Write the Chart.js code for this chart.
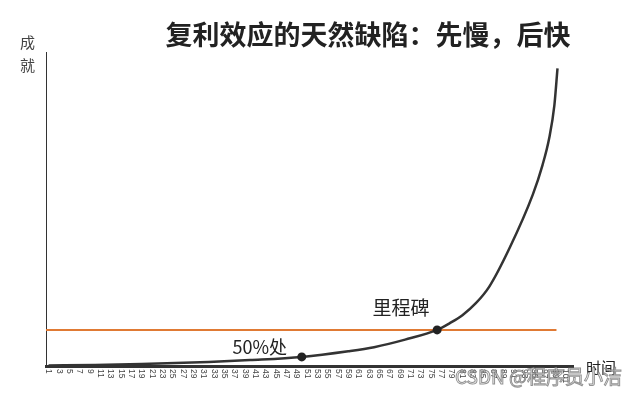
<!DOCTYPE html>
<html>
<head>
<meta charset="utf-8">
<script src="https://cdn.jsdelivr.net/npm/chart.js@4.4.1/dist/chart.umd.min.js"></script>
<style>
  html, body { margin: 0; padding: 0; background: #fff; }
  #wrap { position: relative; width: 643px; height: 398px; }
</style>
</head>
<body>
<div id="wrap"><canvas id="chart" width="643" height="398"></canvas></div>
<script>
// ---- data ----
const xTickLabels = [1, 3, 5, 7, 9, 11, 13, 15, 17, 19, 21, 23, 25, 27, 29, 31, 33, 35, 37, 39, 41, 43, 45, 47, 49,
    51, 53, 55, 57, 59, 61, 63, 65, 67, 69, 71, 73, 75, 77, 79, 81, 83, 85, 87, 89, 91, 93, 95, 97, 99, 101];

// 成就曲线 (y in 0..100 of axis height)
const curveX = [1, 10, 19, 32, 40, 50, 59, 64, 70, 76.2, 78.6, 81.1, 83.7, 86.3, 90.2, 94.7, 96.6, 97.9, 98.9, 99.5];
const curveY = [0.15, 0.35, 0.6, 1.3, 1.9, 2.9, 4.7, 6.0, 8.4, 11.5, 13.6, 16.2, 20.0, 25.3, 37.5, 54.5, 64.0, 72.6, 83.1, 94.8];

// 里程碑 horizontal line
const milestoneX = [0.5, 99.3];
const milestoneY = [11.5, 11.5];

// marked points: 50%处, 里程碑
const markX = [50, 76.2];
const markY = [2.9, 11.5];
const markText = ['50%处', '里程碑'];

const titleText = '复利效应的天然缺陷：先慢，后快';
const yAxisText = ['成', '就'];
const xAxisText = '时间';
const watermark = 'CSDN @程序员小洁';

const CJK = '"Noto Sans CJK SC", "Noto Sans", sans-serif';

const toPoints = (xs, ys) => xs.map((x, i) => ({ x: x, y: ys[i] }));

// texts, tick labels drawn on the canvas
const textPlugin = {
    id: 'texts',
    afterDraw(chart) {
        const ctx = chart.ctx;
        const xs = chart.scales.x, ys = chart.scales.y;
        const area = chart.chartArea;
        ctx.save();

        // title
        ctx.fillStyle = '#222';
        ctx.textAlign = 'center';
        ctx.textBaseline = 'middle';
        ctx.font = 'bold 27px ' + CJK;
        ctx.fillText(titleText, 368, 35);

        // axis names
        ctx.font = '15px ' + CJK;
        ctx.fillStyle = '#444';
        ctx.fillText(yAxisText[0], 27.5, 42);
        ctx.fillText(yAxisText[1], 27.5, 65);
        ctx.fillStyle = '#222';
        ctx.fillText(xAxisText, 601, 367);

        // point labels
        ctx.fillStyle = '#222';
        ctx.font = '18px ' + CJK;
        ctx.fillText(markText[0], xs.getPixelForValue(markX[0]) - 42, ys.getPixelForValue(markY[0]) - 10);
        ctx.font = '19px ' + CJK;
        ctx.fillText(markText[1], xs.getPixelForValue(markX[1]) - 36, ys.getPixelForValue(markY[1]) - 22);

        // x tick labels, rotated clockwise
        ctx.font = '8.5px "Liberation Sans", sans-serif';
        ctx.fillStyle = '#444';
        ctx.textAlign = 'left';
        xTickLabels.forEach(v => {
            ctx.save();
            ctx.translate(xs.getPixelForValue(v), area.bottom + 3);
            ctx.rotate(Math.PI / 2);
            ctx.fillText(String(v), 0, 0);
            ctx.restore();
        });

        // watermark
        ctx.font = '19px ' + CJK;
        ctx.textAlign = 'left';
        ctx.fillStyle = 'rgba(255,255,255,0.6)';
        ctx.strokeStyle = 'rgba(110,110,110,0.75)';
        ctx.lineWidth = 1;
        ctx.fillText(watermark, 455, 377);
        ctx.strokeText(watermark, 455, 377);
        ctx.restore();
    }
};

new Chart(document.getElementById('chart'), {
    type: 'line',
    data: {
        datasets: [
            { label: '标记', data: toPoints(markX, markY), showLine: false, pointRadius: 4.5, pointBackgroundColor: '#222', pointBorderWidth: 0, order: 0 },
            { label: '成就', data: toPoints(curveX, curveY), borderColor: '#333', borderWidth: 2.5, pointRadius: 0, cubicInterpolationMode: 'monotone', order: 1 },
            { label: '里程碑', data: toPoints(milestoneX, milestoneY), borderColor: '#e07a34', borderWidth: 2, pointRadius: 0, order: 2 }
        ]
    },
    options: {
        responsive: false,
        animation: false,
        layout: { padding: { left: 46, right: 70, top: 52, bottom: 32 } },
        plugins: { legend: { display: false }, tooltip: { enabled: false } },
        scales: {
            x: {
                type: 'linear', min: 0.5, max: 102.5,
                ticks: { display: false },
                grid: { display: false, drawTicks: false },
                border: { color: '#333', width: 3 }
            },
            y: {
                min: 0, max: 100,
                ticks: { display: false },
                grid: { display: false, drawTicks: false },
                border: { color: '#333', width: 1 }
            }
        }
    },
    plugins: [textPlugin]
});
</script>
</body>
</html>
